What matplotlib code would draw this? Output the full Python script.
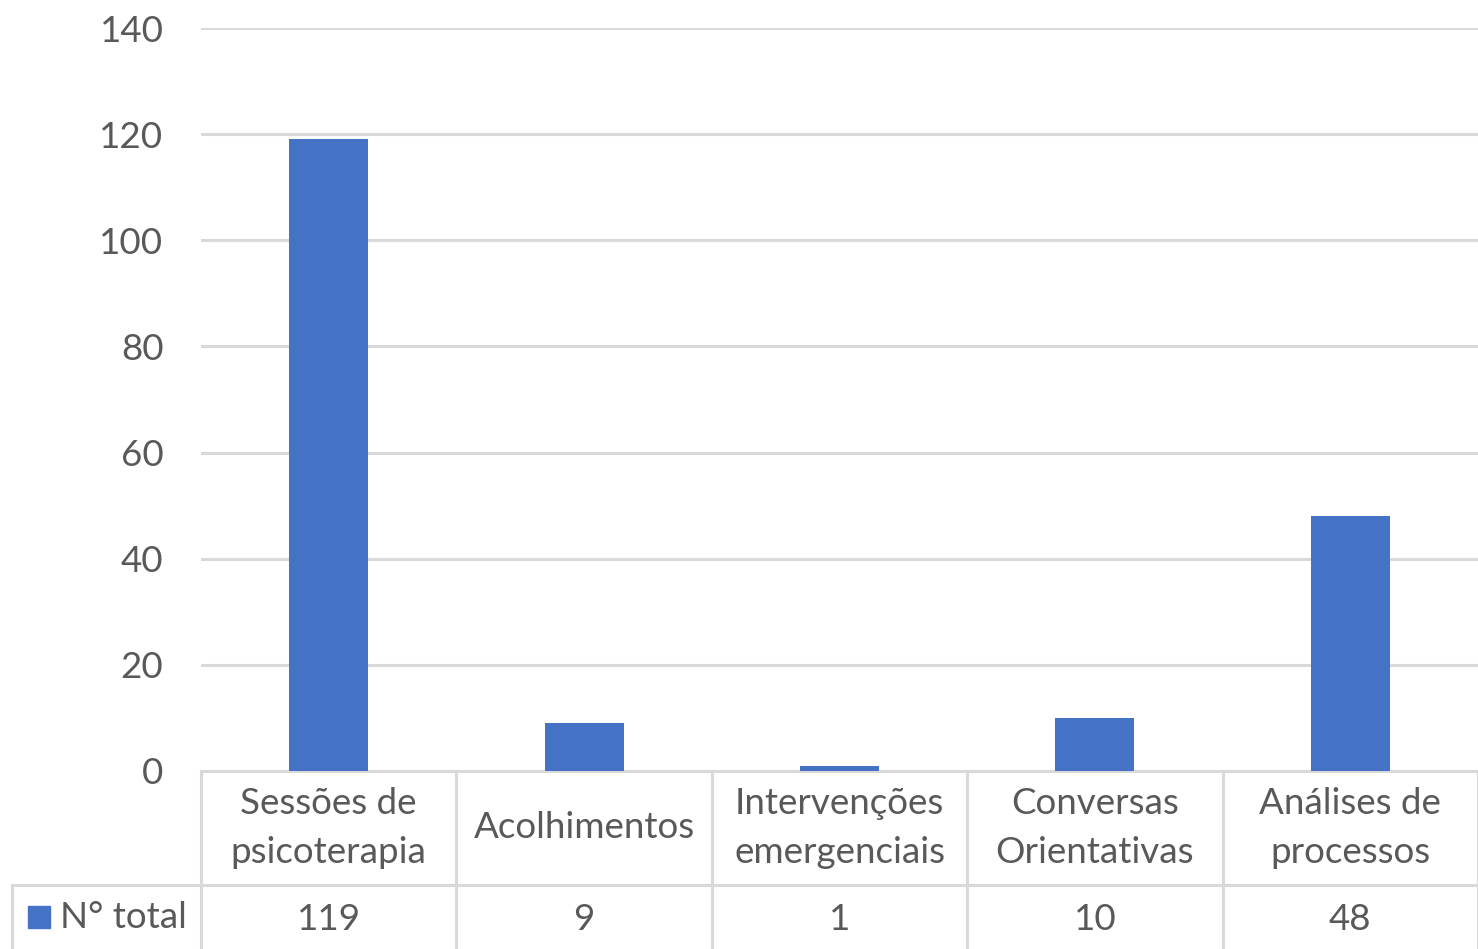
import matplotlib.pyplot as plt
from matplotlib.patches import Rectangle

categories = ['Sessões de\npsicoterapia', 'Acolhimentos', 'Intervenções\nemergenciais',
              'Conversas\nOrientativas', 'Análises de\nprocessos']
values = [119, 9, 1, 10, 48]
series_name = 'N° total'
y_ticks = [0, 20, 40, 60, 80, 100, 120, 140]

BLUE = '#4472C4'
TEXT = '#595959'
GRID = '#D9D9D9'
FS = 26.5

plt.rcParams['font.family'] = ['Lato', 'DejaVu Sans']

W, H = 1478, 949
fig = plt.figure(figsize=(W / 100, H / 100), dpi=100)
ax = fig.add_axes([201 / W, (H - 771) / H, 1277 / W, 743 / H])

x = list(range(len(categories)))
ax.bar(x, values, width=0.31, color=BLUE, zorder=3)
ax.set_xlim(-0.5, len(categories) - 0.5)
ax.set_ylim(0, 140)
ax.set_yticks(y_ticks)
ax.tick_params(axis='y', length=0, pad=27, labelsize=FS, labelcolor=TEXT)
ax.set_xticks([])
for s in ax.spines.values():
    s.set_visible(False)
ax.grid(axis='y', color=GRID, linewidth=2.2, zorder=0)

# data table below the axis
tr = ax.get_xaxis_transform()
row1 = -114 / 743
row2 = -178 / 743
left = -0.5 - 189 / 255.4
line_kw = dict(color=GRID, linewidth=2.2, clip_on=False, transform=tr)
ax.plot([-0.5, len(categories) - 0.5], [0, 0], **line_kw)
ax.plot([left, len(categories) - 0.5], [row1, row1], **line_kw)
for b in range(len(categories) + 1):
    ax.plot([b - 0.5, b - 0.5], [0, row2 - 0.01], **line_kw)
ax.plot([left, left], [row1, row2 - 0.01], **line_kw)

for i, (c, v) in enumerate(zip(categories, values)):
    ax.text(i, row1 / 2, c, transform=tr, ha='center', va='center',
            fontsize=FS, color=TEXT, linespacing=1.6)
    ax.text(i, (row1 + row2) / 2 - 3 / 743, str(v), transform=tr, ha='center', va='center',
            fontsize=FS, color=TEXT)

ax.add_patch(Rectangle((left + 16 / 255.4, (row1 + row2) / 2 - 11 / 743), 22 / 255.4, 22 / 743,
                       transform=tr, color=BLUE, clip_on=False))
ax.text(left + 48 / 255.4, (row1 + row2) / 2, series_name, transform=tr, ha='left',
        va='center', fontsize=FS, color=TEXT)

fig.savefig('out.png', dpi=100)
